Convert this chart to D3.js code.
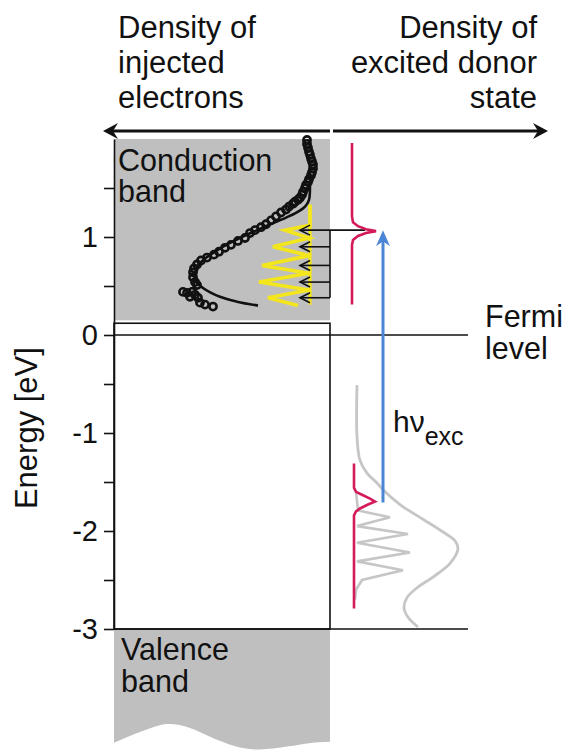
<!DOCTYPE html>
<html>
<head>
<meta charset="utf-8">
<script src="https://cdn.jsdelivr.net/npm/d3@7"></script>
<style>
  body { margin: 0; background: #fff; }
  svg { display: block; }
  text { font-family: "Liberation Sans", Arial, sans-serif; fill: #111; }
</style>
</head>
<body>
<div id="chart"></div>
<script>
// energy axis ticks [eV]
const energyTicks = [-3, -2.5, -2, -1.5, -1, -0.5, 0, 0.5, 1, 1.5];

// band edges [eV]
const conductionBand = [0.15, 2.0];
const gapBox = [-3, 0.12];
// wavy lower edge of the valence band: [density, E]
const valenceEdge = [[21.6, -4.16], [19, -4.05], [16.3, -3.97], [14.3, -4.0], [11.3, -4.13],
                     [9, -4.21], [7, -4.23], [4.3, -4.2], [1.7, -4.16], [0, -4.15]];

// injected electrons (left side), [E, density]
const injectedDots = [
  [1.99, 2.3], [1.95, 2.3], [1.91, 2.2], [1.87, 2.1], [1.84, 2.0], [1.80, 1.9], [1.77, 1.8],
  [1.74, 1.7], [1.70, 1.7], [1.66, 1.8], [1.63, 1.9], [1.59, 2.1], [1.56, 2.2], [1.53, 2.4],
  [1.50, 2.5], [1.46, 2.7], [1.43, 2.8], [1.40, 3.0], [1.38, 3.2], [1.36, 3.5], [1.34, 3.7],
  [1.31, 4.1], [1.28, 4.4], [1.25, 4.9], [1.21, 5.4], [1.17, 5.9], [1.13, 6.4], [1.10, 6.9],
  [1.07, 7.5], [1.04, 8.0], [0.99, 8.5], [0.96, 9.2], [0.92, 9.9], [0.89, 10.5], [0.85, 11.1],
  [0.82, 11.6], [0.79, 12.3], [0.76, 12.9], [0.72, 13.3], [0.68, 13.6], [0.64, 13.7],
  [0.59, 13.7], [0.54, 13.5], [0.51, 13.3], [0.44, 14.7], [0.43, 14.3], [0.44, 13.8],
  [0.39, 14.0], [0.41, 13.5], [0.38, 13.2], [0.33, 13.0], [0.31, 12.5], [0.29, 11.7]
];
const injectedFit = [
  [1.68, 2.0], [1.53, 2.0], [1.38, 2.1], [1.31, 2.5], [1.24, 3.5], [1.18, 4.8], [1.12, 6.2],
  [1.06, 7.5], [1.00, 8.8], [0.93, 10.2], [0.85, 11.5], [0.78, 12.5], [0.71, 13.2],
  [0.64, 13.4], [0.56, 13.5], [0.48, 12.7], [0.39, 11.0], [0.34, 9.3], [0.30, 7.2]
];
const vibronicInjected = [
  [1.33, 2.0], [1.12, 2.0], [1.07, 4.5], [0.99, 2.1], [0.90, 5.7], [0.81, 2.1], [0.71, 6.8],
  [0.63, 2.1], [0.54, 7.1], [0.46, 2.1], [0.38, 6.2], [0.30, 3.2]
];
const vibronicBase = [[1.33, 2.0], [0.31, 2.0]];
const transferLevels = [1.07, 0.90, 0.71, 0.54, 0.38];

// excited donor state (right side), [E, density]
const donorExcited = [
  [1.96, 2.2], [1.21, 2.2], [1.15, 2.3], [1.11, 2.8], [1.08, 3.6], [1.06, 4.6],
  [1.04, 3.6], [1.01, 2.8], [0.97, 2.3], [0.92, 2.2], [0.31, 2.2]
];
const donorGround = [
  [-1.31, 2.4], [-1.56, 2.4], [-1.60, 2.6], [-1.63, 3.2], [-1.67, 4.0], [-1.70, 4.5],
  [-1.73, 3.8], [-1.77, 3.0], [-1.80, 2.6], [-1.84, 2.4], [-2.79, 2.4]
];
const absorptionBroad = [
  [-0.51, 2.7], [-1.04, 2.7], [-1.28, 3.0], [-1.41, 3.7], [-1.51, 4.7], [-1.58, 5.3],
  [-1.73, 7.0], [-1.88, 9.3], [-2.01, 11.3], [-2.10, 12.5], [-2.18, 12.8], [-2.33, 12.0],
  [-2.47, 10.3], [-2.58, 8.7], [-2.68, 7.7], [-2.78, 7.4], [-2.88, 7.8], [-2.98, 8.8]
];
const absorptionLines = [
  [-1.60, 2.6], [-1.79, 2.8], [-1.86, 6.0], [-1.95, 2.7], [-2.03, 7.8], [-2.12, 2.7],
  [-2.22, 8.0], [-2.31, 2.7], [-2.40, 7.3], [-2.50, 3.2], [-2.60, 2.6], [-2.70, 2.5]
];
const excitation = [-1.71, 1.07];

const width = 568, height = 754;
const svg = d3.select("#chart").append("svg")
  .attr("width", width).attr("height", height);

const y = d3.scaleLinear().domain([-3, 2]).range([629, 139]);
const xL = d3.scaleLinear().domain([0, 21.6]).range([330, 114]);
const xR = d3.scaleLinear().domain([0, 21.8]).range([330, 548]);

const GRAY = "#bfbfbf", PINK = "#d41a5b", YELLOW = "#f4e61c", BLUE = "#4b85d6", LGRAY = "#c6c6c6";

// bands
svg.append("rect")
  .attr("x", xL(21.6)).attr("y", y(conductionBand[1]))
  .attr("width", xL(0) - xL(21.6)).attr("height", y(conductionBand[0]) - y(conductionBand[1]))
  .attr("fill", GRAY);

svg.append("path")
  .datum(valenceEdge)
  .attr("d", d3.area().x(d => xL(d[0])).y0(y(-3)).y1(d => y(d[1])).curve(d3.curveCatmullRom))
  .attr("fill", GRAY);

svg.append("rect")
  .attr("x", xL(21.6)).attr("y", y(gapBox[1]))
  .attr("width", xL(0) - xL(21.6)).attr("height", y(gapBox[0]) - y(gapBox[1]))
  .attr("fill", "#fff").attr("stroke", "#111").attr("stroke-width", 1.6);

// Fermi level and -3 line
[0, -3].forEach(e => {
  svg.append("line")
    .attr("x1", xL(21.6)).attr("x2", 468)
    .attr("y1", y(e)).attr("y2", y(e))
    .attr("stroke", "#111").attr("stroke-width", 1.6);
});

// axis
const axis = svg.append("g")
  .attr("transform", `translate(${xL(21.6)},0)`)
  .call(d3.axisLeft(y).tickValues(energyTicks).tickSize(10).tickSizeOuter(0).tickPadding(6)
    .tickFormat(d => Number.isInteger(d) ? String(d) : ""));
axis.selectAll("path, line").attr("stroke", "#111").attr("stroke-width", 1.6);
axis.selectAll("text").style("font-size", "29px").attr("fill", "#111")
  .style("font-family", '"Liberation Sans", Arial, sans-serif');

svg.append("text")
  .attr("transform", `translate(37,${y(-0.95)}) rotate(-90)`)
  .attr("text-anchor", "middle").style("font-size", "31px")
  .text("Energy [eV]");

const lineLeft = d3.line().x(d => xL(d[1])).y(d => y(d[0]));
const lineRight = d3.line().x(d => xR(d[1])).y(d => y(d[0]));

// yellow vibronic progression
svg.append("path").datum(vibronicBase).attr("d", lineLeft)
  .attr("fill", "none").attr("stroke", YELLOW).attr("stroke-width", 3.2);
svg.append("path").datum(vibronicInjected).attr("d", lineLeft)
  .attr("fill", "none").attr("stroke", YELLOW).attr("stroke-width", 3.6)
  .attr("stroke-linejoin", "miter");

// fit line
svg.append("path").datum(injectedFit)
  .attr("d", d3.line().x(d => xL(d[1])).y(d => y(d[0])).curve(d3.curveCatmullRom))
  .attr("fill", "none").attr("stroke", "#111").attr("stroke-width", 2.6);

// data points
svg.append("g").selectAll("circle")
  .data(injectedDots)
  .join("circle")
  .attr("cx", d => xL(d[1]))
  .attr("cy", d => y(d[0]))
  .attr("r", 3.6)
  .attr("fill", "none")
  .attr("stroke", "#111")
  .attr("stroke-width", 2.6);

// transfer arrows
const arrows = svg.append("g").attr("stroke", "#111").attr("stroke-width", 1.6).attr("fill", "none");
arrows.append("line")
  .attr("x1", xL(0)).attr("x2", xL(0))
  .attr("y1", y(transferLevels[0])).attr("y2", y(transferLevels[transferLevels.length - 1]));
transferLevels.forEach((e, i) => {
  const tx = xL(3.0), ty = y(e);
  arrows.append("line")
    .attr("x1", i === 0 ? xR(3.5) : xL(0)).attr("x2", tx)
    .attr("y1", ty).attr("y2", ty);
  arrows.append("path")
    .attr("d", `M${tx + 10},${ty - 5}L${tx},${ty}L${tx + 10},${ty + 5}`);
});

// right side curves
svg.append("path").datum(absorptionBroad)
  .attr("d", d3.line().x(d => xR(d[1])).y(d => y(d[0])).curve(d3.curveCatmullRom))
  .attr("fill", "none").attr("stroke", LGRAY).attr("stroke-width", 2.8);
svg.append("path").datum(absorptionLines).attr("d", lineRight)
  .attr("fill", "none").attr("stroke", LGRAY).attr("stroke-width", 2.6);
[donorExcited, donorGround].forEach(s => {
  svg.append("path").datum(s).attr("d", lineRight)
    .attr("fill", "none").attr("stroke", PINK).attr("stroke-width", 2.6);
});

// excitation arrow
const bx = xR(5.3), by0 = y(excitation[0]), by1 = y(excitation[1]);
svg.append("line")
  .attr("x1", bx).attr("x2", bx).attr("y1", by0).attr("y2", by1 + 8)
  .attr("stroke", BLUE).attr("stroke-width", 3);
svg.append("path")
  .attr("d", `M${bx},${by1}L${bx + 7},${by1 + 16}L${bx},${by1 + 11}L${bx - 7},${by1 + 16}Z`)
  .attr("fill", BLUE);

// top double arrow
const ay = 131;
svg.append("line").attr("x1", xL(0)).attr("x2", xL(22.3)).attr("y1", ay).attr("y2", ay)
  .attr("stroke", "#111").attr("stroke-width", 3);
svg.append("line").attr("x1", xR(0.3)).attr("x2", xR(21.4)).attr("y1", ay).attr("y2", ay)
  .attr("stroke", "#111").attr("stroke-width", 3);
const lt = xL(22.7), rt = xR(21.8);
svg.append("path").attr("d", `M${lt},${ay}L${lt + 15},${ay - 8}L${lt + 10},${ay}L${lt + 15},${ay + 8}Z`).attr("fill", "#111");
svg.append("path").attr("d", `M${rt},${ay}L${rt - 15},${ay - 8}L${rt - 10},${ay}L${rt - 15},${ay + 8}Z`).attr("fill", "#111");

// labels
function label(lines, x, y0, anchor, size, step) {
  const t = svg.append("text").attr("text-anchor", anchor).style("font-size", size + "px");
  lines.forEach((s, i) => t.append("tspan").attr("x", x).attr("y", y0 + i * step).text(s));
}
label(["Density of", "injected", "electrons"], 118, 38, "start", 31, 35);
label(["Density of", "excited donor", "state"], 537, 38, "end", 31, 35);
label(["Conduction", "band"], 118, 171, "start", 30.5, 31);
label(["Valence", "band"], 121, 660, "start", 30.5, 32);
label(["Fermi", "level"], 485, 327, "start", 30.5, 32);

const hv = svg.append("text").attr("x", 393).attr("y", 432).style("font-size", "30px");
hv.append("tspan").text("hν");
hv.append("tspan").attr("dy", 13).style("font-size", "25px").text("exc");
</script>
</body>
</html>
